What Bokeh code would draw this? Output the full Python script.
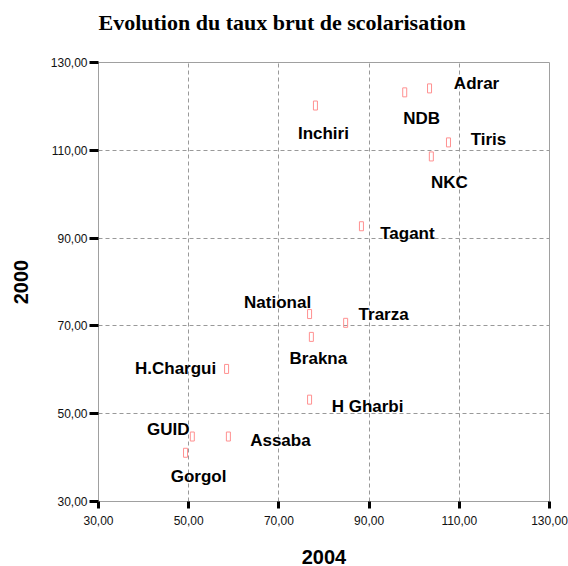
from bokeh.plotting import figure
from bokeh.models import (ColumnDataSource, Range1d, FixedTicker, CustomJSTickFormatter, Title)
from bokeh.core.properties import value
from bokeh.embed import file_html
from bokeh.resources import INLINE

regions = ["Adrar", "NDB", "Tiris", "NKC", "Inchiri", "Tagant", "National", "Trarza",
           "Brakna", "H.Chargui", "H Gharbi", "GUID", "Assaba", "Gorgol"]
taux_2004 = [103.4, 97.9, 107.6, 103.8, 78.1, 88.3, 76.8, 84.8, 77.2, 58.4, 76.8, 50.8, 58.8, 49.3]
taux_2000 = [124.1, 123.2, 111.8, 108.6, 120.2, 92.7, 72.7, 70.7, 67.5, 60.2, 53.2, 44.8, 44.8, 41.1]
ticks = [30, 50, 70, 90, 110, 130]
title_text = "Evolution du taux brut de scolarisation"

# label placement (screen pixel offsets from each point)
label_dx = [47, 17, 40, 18, 8, 46, -32, 38, 7, -51, 58, -24, 52, 13]
label_dy = [-5, 26, -3, 26, 28, 7, -12, -8, 22, 0, 7, -7, 4, 24]

src = ColumnDataSource(dict(x=taux_2004, y=taux_2000, name=regions, dx=label_dx, dy=label_dy))

p = figure(width=568, height=566, output_backend="svg", toolbar_location=None,
           x_range=Range1d(30, 130), y_range=Range1d(30, 130),
           min_border_left=98, min_border_right=19, min_border_top=62, min_border_bottom=64)

p.title = Title(text=title_text, align="left", offset=0,
                text_font="Liberation Serif", text_font_size="22px", text_font_style="bold",
                text_color="black", standoff=14)
# empty spacer title between the real title and the frame
p.add_layout(Title(text=" ", text_font_size="8px", standoff=10), "above")

p.rect(x="x", y="y", width=4, height=9, width_units="screen", height_units="screen",
       fill_color=None, line_color="#ff9090", line_width=1, source=src)
p.text(x="x", y="y", text="name", x_offset="dx", y_offset="dy", source=src,
       text_align="center", text_baseline="middle", text_font=value("Liberation Sans"),
       text_font_size="17px", text_font_style="bold", text_color="black")

fmt = CustomJSTickFormatter(code="return tick.toFixed(2).replace('.', ',');")
for ax in (p.xaxis[0], p.yaxis[0]):
    ax.ticker = FixedTicker(ticks=ticks)
    ax.formatter = fmt
    ax.axis_line_color = "#a0a0a0"
    ax.axis_line_width = 1
    ax.major_tick_line_color = "black"
    ax.major_tick_line_width = 3
    ax.major_tick_in = 0
    ax.minor_tick_line_color = None
    ax.major_label_text_font = "Liberation Sans"
    ax.major_label_text_font_size = "12px"
    ax.major_label_text_color = "#111111"
    ax.axis_label_text_font = "Liberation Sans"
    ax.axis_label_text_font_style = "bold"
    ax.axis_label_text_font_size = "20px"
    ax.axis_label_text_color = "black"

p.xaxis.axis_label = "2004"
p.yaxis.axis_label = "2000"
p.xaxis.major_tick_out = 7
p.yaxis.major_tick_out = 9
p.xaxis.major_label_standoff = 7
p.yaxis.major_label_standoff = 2
p.xaxis.axis_label_standoff = 22
p.yaxis.axis_label_standoff = 20

for g in (p.xgrid[0], p.ygrid[0]):
    g.ticker = FixedTicker(ticks=[50, 70, 90, 110])
    g.grid_line_color = "#999999"
    g.grid_line_dash = "4 3"
    g.grid_line_width = 1

p.outline_line_color = "#a0a0a0"
p.outline_line_width = 1
p.background_fill_color = "white"
p.border_fill_color = "white"

open("out.html", "w").write(file_html(p, INLINE))
